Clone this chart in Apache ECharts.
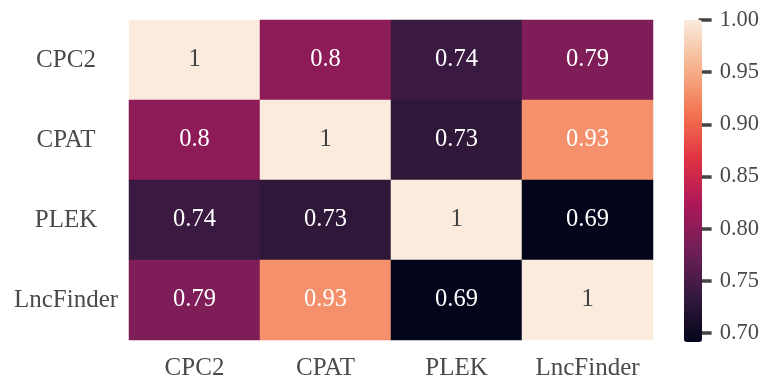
<!DOCTYPE html>
<html>
<head>
<meta charset="utf-8">
<script src="https://cdn.jsdelivr.net/npm/echarts@6/dist/echarts.min.js"></script>
<style>
  html, body { margin: 0; padding: 0; background: #ffffff; }
  #chart { width: 762px; height: 381px; }
</style>
</head>
<body>
<div id="chart"></div>
<script>
// Tools compared in the correlation matrix
const tools = ['CPC2', 'CPAT', 'PLEK', 'LncFinder'];

// Pairwise correlation, one row per tool (same order as tools)
const rowCPC2 = [1, 0.80, 0.74, 0.79];
const rowCPAT = [0.80, 1, 0.73, 0.93];
const rowPLEK = [0.74, 0.73, 1, 0.6914];
const rowLncFinder = [0.79, 0.93, 0.6914, 1];

// Colour bar tick labels
const barTicks = [0.70, 0.75, 0.80, 0.85, 0.90, 0.95, 1.00];

// seaborn "rocket" colour map stops
const rocket = ['#03051a', '#35193e', '#701f57', '#ad1759', '#e13342', '#f37651', '#f6b48f', '#faebdd'];

const rows = [rowCPC2, rowCPAT, rowPLEK, rowLncFinder];
const cells = [];
rows.forEach((row, r) => row.forEach((v, c) => cells.push([c, r, v])));
const allVals = rows.flat();
const vMin = Math.min(...allVals);
const vMax = Math.max(...allVals);

const serif = 'Liberation Serif';
const fmt = v => String(parseFloat(Number(v).toPrecision(2)));
const relative = v => (v - vMin) / (vMax - vMin);

const chart = echarts.init(document.getElementById('chart'), null, { renderer: 'canvas' });
chart.setOption({
  backgroundColor: '#ffffff',
  animation: false,
  grid: [
    { left: 129, top: 20, width: 524, height: 322 },
    { left: 684, top: 20, width: 18, height: 322 }
  ],
  xAxis: [
    {
      type: 'category', gridIndex: 0, data: tools, position: 'bottom',
      axisLine: { show: false }, axisTick: { show: false }, splitLine: { show: false },
      axisLabel: { interval: 0, fontFamily: serif, fontSize: 25, color: '#4a4a4a', margin: 16 }
    },
    {
      type: 'value', gridIndex: 1, show: false, min: 0, max: 1
    }
  ],
  yAxis: [
    {
      type: 'category', gridIndex: 0, data: tools, inverse: true,
      axisLine: { show: false }, axisTick: { show: false }, splitLine: { show: false },
      axisLabel: { interval: 0, fontFamily: serif, fontSize: 25, color: '#4a4a4a', align: 'center', margin: 63 }
    },
    {
      type: 'value', gridIndex: 1, position: 'right', min: vMin, max: vMax,
      axisLine: { show: false, onZero: false }, splitLine: { show: false },
      axisTick: { show: true, inside: false, length: 13, customValues: barTicks, lineStyle: { color: '#444444', width: 3.5 } },
      axisLabel: {
        show: true, customValues: barTicks, margin: 21,
        fontFamily: serif, fontSize: 22.5, color: '#4a4a4a',
        formatter: v => Number(v).toFixed(2)
      }
    }
  ],
  visualMap: {
    type: 'continuous',
    seriesIndex: 0,
    min: vMin, max: vMax,
    calculable: false,
    orient: 'vertical',
    left: 684, top: 20,
    itemWidth: 18, itemHeight: 322,
    padding: 0,
    text: null,
    showLabel: false,
    inRange: { color: rocket }
  },
  series: [{
    type: 'heatmap',
    xAxisIndex: 0, yAxisIndex: 0,
    data: cells.map(c => ({
      value: c,
      // dark text on the pale cells, white text on the dark ones
      label: { color: relative(c[2]) > 0.85 ? '#404040' : '#ffffff' }
    })),
    itemStyle: { borderWidth: 0 },
    label: {
      show: true,
      fontFamily: serif,
      fontSize: 24.5,
      formatter: p => fmt(p.value[2])
    },
    emphasis: { disabled: true }
  }]
});
</script>
</body>
</html>
